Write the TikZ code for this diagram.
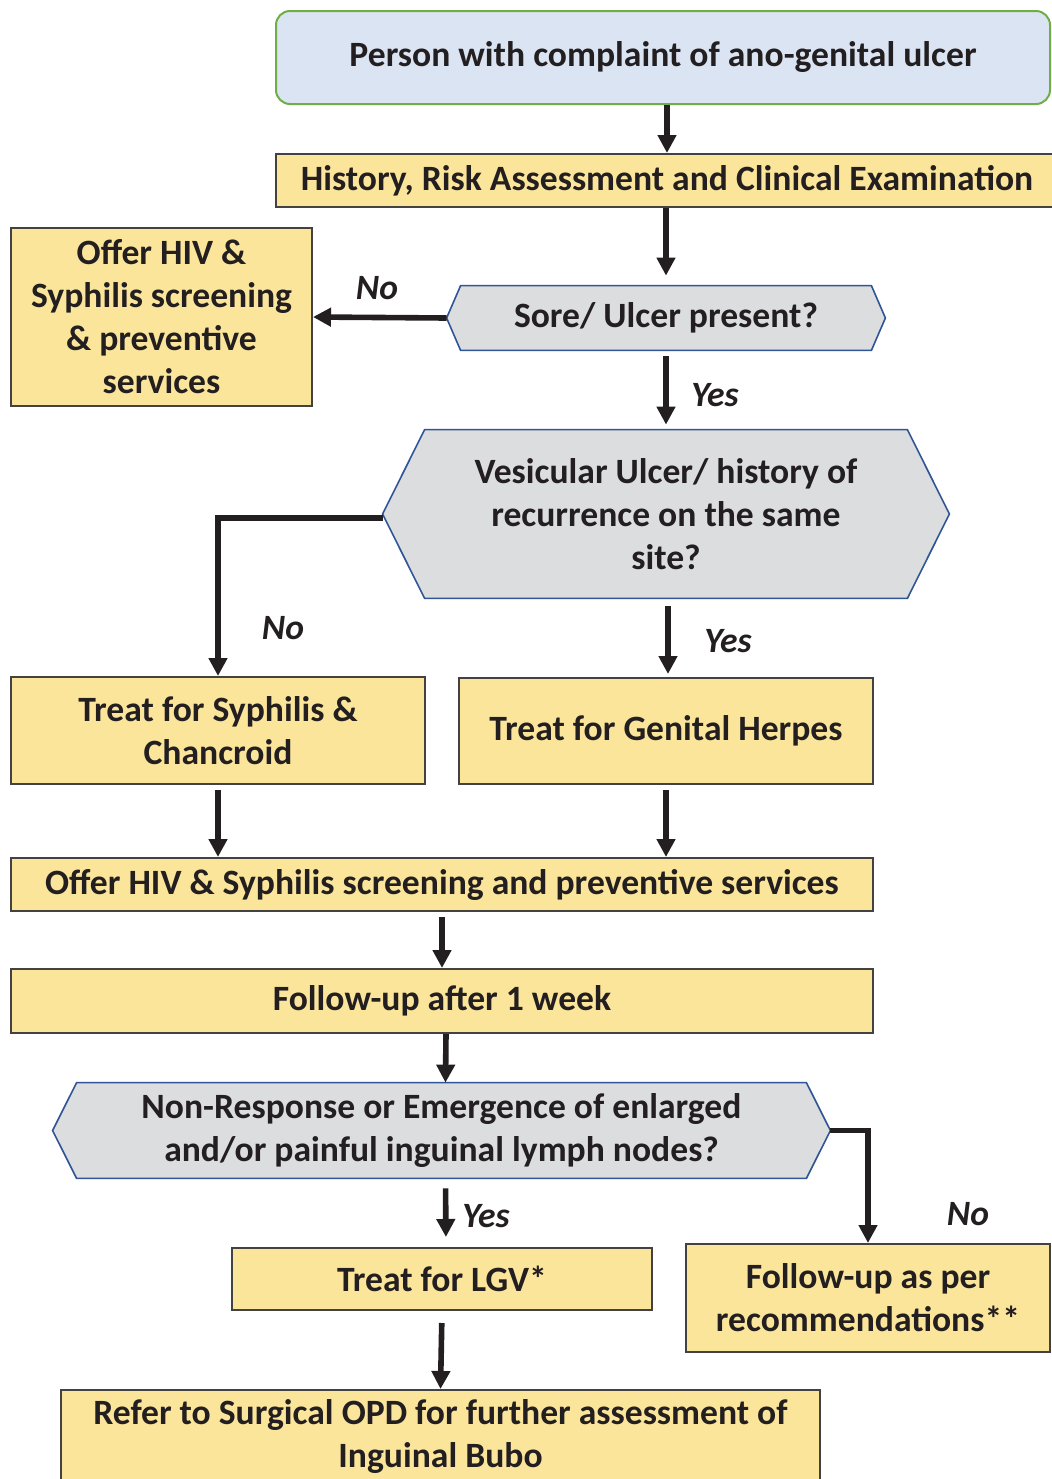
\documentclass[tikz,border=0pt]{standalone}
\usepackage{fontspec}
\setmainfont{Carlito}
\usetikzlibrary{arrows.meta,calc,backgrounds}
\definecolor{boxyellow}{HTML}{FBE59B}
\definecolor{qgray}{HTML}{DCDDDF}
\definecolor{qblue}{HTML}{2F5597}
\definecolor{startblue}{HTML}{DAE4F2}
\definecolor{startgreen}{HTML}{70AD47}
\definecolor{ink}{HTML}{231F20}
\tikzset{
  every node/.style={font=\fontsize{17.8}{21.5}\selectfont\bfseries, text=ink, align=center, inner sep=0pt},
  ybox/.style={rectangle, draw=ink!85, line width=1pt, fill=boxyellow},
  qnode/.style={rectangle},
  hexline/.style={draw=qblue, line width=0.8pt, fill=qgray},
  arr/.style={draw=ink, line width=2.8pt, -{Triangle[length=9pt,width=9pt]}},
  lbl/.style={font=\fontsize{17.8}{21.5}\selectfont\bfseries\itshape},
}
% hexagon round a named node, slant in px
\newcommand\hexframe[2]{\path[hexline] ($(#1.north west)+(#2,0)$) -- ($(#1.north east)+(-#2,0)$) -- (#1.east) -- ($(#1.south east)+(-#2,0)$) -- ($(#1.south west)+(#2,0)$) -- (#1.west) -- cycle;}

\begin{document}
\begin{tikzpicture}[x=0.5pt, y=-0.5pt]
  \useasboundingbox (0,0) rectangle (1051,1479);
  %%%%% BOXES %%%%%
  \node[rectangle, rounded corners=7pt, draw=startgreen, line width=1pt, fill=startblue, minimum width=387pt, minimum height=46.5pt] (start) at (663,57.5) {Person with complaint of ano-genital ulcer};
  \node[ybox, minimum width=391pt, minimum height=26.5pt] (hist) at (667,180.5) {History, Risk Assessment and Clinical Examination};
  \node[ybox, minimum width=150.5pt, minimum height=89pt] (hivL) at (161.5,317) {Offer HIV \&\\Syphilis screening\\\& preventive\\services};
  \node[qnode, minimum width=219pt, minimum height=32pt] (sore) at (666,318) {Sore/ Ulcer present?};
  \node[qnode, minimum width=283pt, minimum height=84pt] (vesic) at (666,514) {Vesicular Ulcer/ history of\\recurrence on the same\\site?};
  \node[ybox, minimum width=207pt, minimum height=53.5pt] (syph) at (218,730.5) {Treat for Syphilis \&\\Chancroid};
  \node[ybox, minimum width=207pt, minimum height=53pt] (herpes) at (666,731) {Treat for Genital Herpes};
  \node[ybox, minimum width=431pt, minimum height=26.5pt] (hivB) at (442,884.5) {Offer HIV \& Syphilis screening and preventive services};
  \node[ybox, minimum width=431pt, minimum height=32pt] (follow) at (442,1001) {Follow-up after 1 week};
  \node[qnode, minimum width=388.5pt, minimum height=47.5pt] (nonresp) at (441.5,1130.5) {Non-Response or Emergence of enlarged\\and/or painful inguinal lymph nodes?};
  \node[ybox, minimum width=210pt, minimum height=31pt] (lgv) at (442,1279) {Treat for LGV*};
  \node[ybox, minimum width=182pt, minimum height=54pt] (furec) at (868,1298) {Follow-up as per\\recommendations**};
  \node[ybox, minimum width=379.5pt, minimum height=46.5pt] (refer) at (440.5,1436.5) {Refer to Surgical OPD for further assessment of\\Inguinal Bubo};
  \begin{scope}[on background layer]
    \hexframe{sore}{14}
    \hexframe{vesic}{42}
    \hexframe{nonresp}{24}
  \end{scope}
  %%%%% ARROWS %%%%%
  \draw[arr] (hist.north |- start.south) -- (hist.north);
  \draw[arr, shorten >=5pt] (hist.south -| sore.north) -- (sore.north);
  \draw[arr] (sore.west) -- (hivL.east);
  \draw[arr, shorten <=3pt, shorten >=2.5pt] (sore.south) -- (vesic.north);
  \draw[arr] ([yshift=-2pt]vesic.west) -| (syph.north);
  \draw[arr, shorten <=4pt, shorten >=1.5pt] ([xshift=1pt]vesic.south) -- ([xshift=1pt]herpes.north);
  \draw[arr, shorten <=2.5pt] (syph.south) -- (syph.south |- hivB.north);
  \draw[arr, shorten <=2.5pt] (herpes.south) -- (herpes.south |- hivB.north);
  \draw[arr, shorten <=2.5pt] (hivB.south) -- (follow.north);
  \draw[arr] ([xshift=2pt]follow.south) -- ([xshift=2pt]nonresp.north);
  \draw[arr] (nonresp.east) -| (furec.north);
  \draw[arr, shorten <=5pt, shorten >=5pt] ([xshift=2pt]nonresp.south) -- ([xshift=2pt]lgv.north);
  \draw[arr, shorten <=6pt] (lgv.south) -- (refer.north);
  %%%%% LABELS %%%%%
  \node[lbl] (noA) at (377,288) {No};
  \node[lbl] (yesA) at (715,395) {Yes};
  \node[lbl] (noB) at (283,628) {No};
  \node[lbl] (yesB) at (728,641) {Yes};
  \node[lbl] (noC) at (968,1214) {No};
  \node[lbl] (yesC) at (486,1216) {Yes};
\end{tikzpicture}
\end{document}
